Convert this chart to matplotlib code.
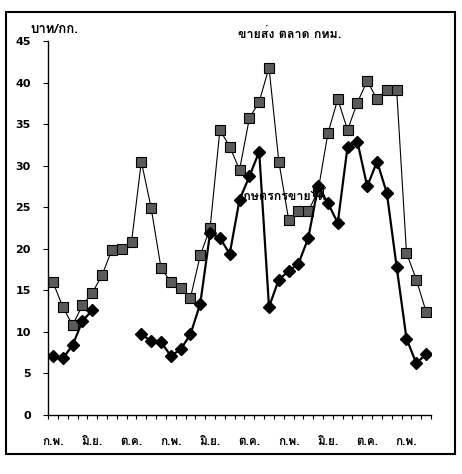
import numpy as np
import matplotlib
matplotlib.use('Agg')
import matplotlib.pyplot as plt
from matplotlib import font_manager
from matplotlib.ft2font import FT2Font
from matplotlib.patches import Rectangle

# find an installed font that has Thai glyphs
thai_font = None
for f in font_manager.fontManager.ttflist:
    try:
        if 0x0E01 in FT2Font(f.fname).get_charmap():
            thai_font = f.name
            break
    except Exception:
        pass
fams = [thai_font, 'DejaVu Sans'] if thai_font else ['DejaVu Sans']

months = ['ก.พ.', 'มิ.ย.', 'ต.ค.']
wholesale = [16.0, 13.0, 10.8, 13.2, 14.7, 16.8, 19.9, 20.0, 20.8, 30.5,
             24.9, 17.7, 16.0, 15.3, 14.1, 19.2, 22.5, 34.3, 32.3, 29.5,
             35.7, 37.7, 41.8, 30.5, 23.5, 24.5, 24.5, 27.0, 33.9, 38.0,
             34.3, 37.6, 40.2, 38.0, 39.1, 39.1, 19.5, 16.3, 12.4]
farm = [7.1, 6.8, 8.4, 11.3, 12.6, np.nan, np.nan, np.nan, np.nan, 9.7,
        8.9, 8.8, 7.1, 7.9, 9.7, 13.4, 21.9, 21.3, 19.4, 25.9,
        28.7, 31.7, 13.0, 16.3, 17.3, 18.2, 21.3, 27.5, 25.5, 23.1,
        32.3, 32.9, 27.5, 30.5, 26.7, 17.8, 9.2, 6.2, 7.35]
x = np.arange(len(wholesale))

fig = plt.figure(figsize=(4.62, 4.74), dpi=100)
ax = fig.add_axes([0.104, 0.1245, 0.829, 0.789])

ax.plot(x, wholesale, color='black', lw=0.8, marker='s', ms=6.5,
        mfc='#5a5a5a', mec='black', mew=0.8)
ax.plot(x, farm, color='black', lw=1.6, marker='D', ms=6, mfc='black', mec='black')

ax.set_xlim(-0.5, len(x) - 0.5)
ax.set_ylim(0, 45)
ax.set_yticks(np.arange(0, 46, 5))
ax.tick_params(axis='y', direction='out', length=3.5, width=0.8, pad=9, labelsize=8)
for lab in ax.get_yticklabels():
    lab.set_fontweight('bold')

ax.set_xticks(np.arange(-0.5, len(x), 1))
ax.set_xticklabels([])
ax.tick_params(axis='x', which='major', direction='out', length=3, width=0.8)
ax.set_xticks(np.arange(0, len(x), 4), minor=True)
ax.set_xticklabels([months[i % 3] for i in range(len(np.arange(0, len(x), 4)))],
                   minor=True, family=fams, fontsize=8.5, fontweight='bold')
ax.tick_params(axis='x', which='minor', length=0, pad=16)

for s in ['top', 'right']:
    ax.spines[s].set_visible(False)
for s in ['left', 'bottom']:
    ax.spines[s].set_linewidth(1.0)

fig.text(0.065, 0.937, 'บาท/กก.', family=fams, fontsize=9.5, fontweight='bold',
         ha='left', va='center')
fig.text(0.515, 0.928, 'ขายส่ง ตลาด กทม.', family=fams, fontsize=9, fontweight='bold',
         ha='left', va='center')
ax.text(19.0, 26.3, 'เกษตรกรขายได้', family=fams, fontsize=9, fontweight='bold',
        ha='left', va='center')

fig.patches.append(Rectangle((0.013, 0.042), 0.972, 0.933, transform=fig.transFigure,
                             fill=False, lw=1.5, ec='black'))

fig.savefig('out.png', dpi=100)
